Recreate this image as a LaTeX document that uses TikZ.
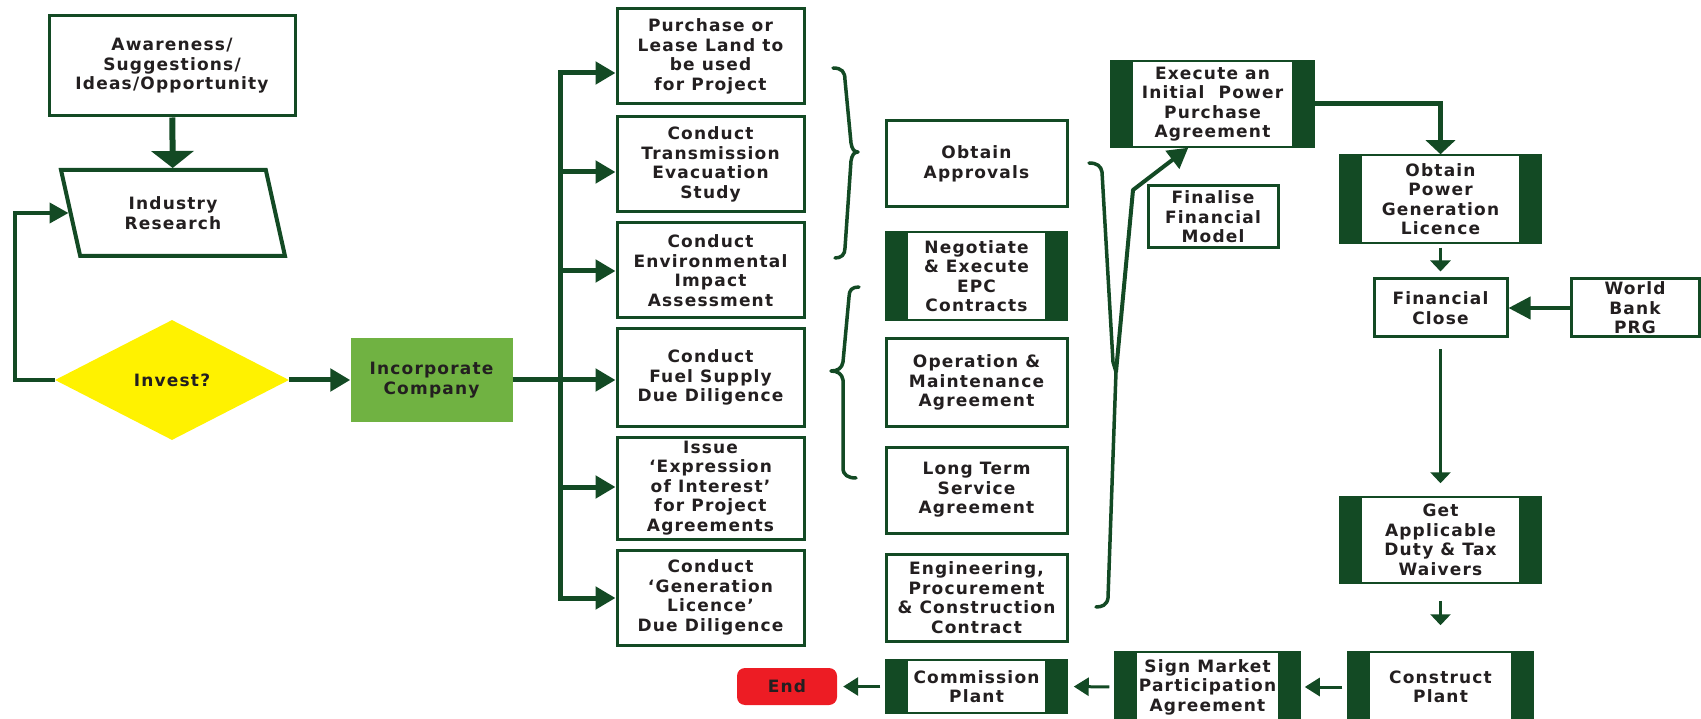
\documentclass[tikz,border=0pt]{standalone}
\usepackage{fontspec}
\setmainfont{DejaVu Sans}[LetterSpace=7]
\usetikzlibrary{shapes.geometric,arrows.meta,calc}
\definecolor{dkg}{RGB}{19,74,36}
\definecolor{incg}{RGB}{112,178,66}
\definecolor{yel}{RGB}{255,242,0}
\definecolor{endred}{RGB}{237,28,36}
\definecolor{txt}{RGB}{35,31,32}
\tikzset{
  every node/.style={font=\fontsize{17}{19.5}\selectfont\bfseries, text=txt, align=center, inner sep=0pt},
  box/.style={draw=dkg, line width=3pt, fill=white},
  barbox/.style={draw=dkg, line width=1.5pt, fill=white, path picture={
      \fill[dkg] (path picture bounding box.north west) rectangle ([xshift=22pt]path picture bounding box.south west);
      \fill[dkg] (path picture bounding box.north east) rectangle ([xshift=-22pt]path picture bounding box.south east);}},
  thk/.style={draw=dkg, line width=5pt, -{Triangle[length=20pt,width=22pt]}},
  thn/.style={draw=dkg, line width=3pt, -{Triangle[length=11pt,width=20pt]}},
  flow/.style={draw=dkg, line width=3pt, -{Triangle[length=15pt,width=18pt]}},
  bracestyle/.style={draw=dkg, line width=3.5pt, line cap=round, line join=round},
}
\begin{document}
\begin{tikzpicture}[x=1pt,y=-1pt]
\useasboundingbox (0,0) rectangle (1701,719);
% left part
\node[box, minimum width=246, minimum height=100] (aware) at (172,66) {Awareness/\\Suggestions/\\Ideas/Opportunity};
\node[trapezium, draw=dkg, line width=4pt, fill=white, trapezium left angle=107, trapezium right angle=73,
      trapezium stretches=true, minimum width=224, minimum height=86] (indus) at (173,213) {Industry\\Research};
\node[diamond, fill=yel, minimum width=234, minimum height=120] (invest) at (172,380) {Invest?};
\node[fill=incg, minimum width=162, minimum height=83] (incorp) at (431.5,380) {Incorporate\\Company};

% left column
\node[box, minimum width=187, minimum height=95] (b1) at (710.5,56.5) {Purchase or\\Lease Land to\\be used\\for Project};
\node[box, minimum width=187, minimum height=95] (b2) at (710.5,164.5) {Conduct\\Transmission\\Evacuation\\Study};
\node[box, minimum width=187, minimum height=95] (b3) at (710.5,270.5) {Conduct\\Environmental\\Impact\\Assessment};
\node[box, minimum width=187, minimum height=97] (b4) at (710.5,377.5) {Conduct\\Fuel Supply\\Due Diligence};
\node[box, minimum width=187, minimum height=102] (b5) at (710.5,488) {Issue\\‘Expression\\of Interest’\\for Project\\Agreements};
\node[box, minimum width=187, minimum height=95] (b6) at (710.5,597.5) {Conduct\\‘Generation\\Licence’\\Due Diligence};

% middle column
\node[box, minimum width=181, minimum height=86] (approv) at (976.5,164) {Obtain\\Approvals};
\node[barbox, minimum width=181, minimum height=88] (epc) at (976.5,276) {Negotiate\\\& Execute\\EPC\\Contracts};
\node[box, minimum width=181, minimum height=87] (om) at (976.5,382.5) {Operation \&\\Maintenance\\Agreement};
\node[box, minimum width=181, minimum height=86] (lts) at (976.5,490) {Long Term\\Service\\Agreement};
\node[box, minimum width=181, minimum height=87] (eng) at (976.5,597.5) {Engineering,\\Procurement\\\& Construction\\Contract};
\node[barbox, minimum width=181, minimum height=53] (comm) at (976.5,686.5) {Commission\\Plant};
\node[fill=endred, rounded corners=8pt, minimum width=100, minimum height=37] (endn) at (787,686.5) {End};

% right part
\node[barbox, minimum width=203, minimum height=86] (exec) at (1212.5,104) {Execute an\\Initial~~Power\\Purchase\\Agreement};
\node[box, minimum width=130, minimum height=62] (finmod) at (1213,217) {Finalise\\Financial\\Model};
\node[barbox, minimum width=201, minimum height=88] (pgl) at (1440.5,199) {Obtain\\Power\\Generation\\Licence};
\node[box, minimum width=133, minimum height=58] (fclose) at (1440.5,308) {Financial\\Close};
\node[box, minimum width=128, minimum height=58] (wb) at (1635,308) {World\\Bank\\PRG};
\node[barbox, minimum width=201, minimum height=86] (duty) at (1440.5,540) {Get\\Applicable\\Duty \& Tax\\Waivers};
\node[barbox, minimum width=185, minimum height=70] (constr) at (1440.5,687) {Construct\\Plant};
\node[barbox, minimum width=185, minimum height=70] (sign) at (1207.5,687) {Sign Market\\Participation\\Agreement};

% left connectors
\draw[dkg, line width=6pt, -{Triangle[length=17pt,width=42pt]}] (aware) -- (indus);
\draw[dkg, line width=4pt, -{Triangle[length=19pt,width=20pt]}] (invest.west) -- (15,380) |- (indus.west);
\draw[thk] (invest.east) -- (incorp.west);
\coordinate (j1) at (560,73);
\coordinate (j2) at (560,172);
\coordinate (j3) at (560,271);
\coordinate (j4) at (560,380);
\coordinate (j5) at (560,487);
\coordinate (j6) at (560,598);
\draw[dkg, line width=5pt] (incorp.east) -- (j4);
\draw[dkg, line width=5pt] ([yshift=2.5pt]j1) -- ([yshift=-2.5pt]j6);
\draw[thk] (j1) -- (j1 -| b1.west);
\draw[thk] (j2) -- (j2 -| b2.west);
\draw[thk] (j3) -- (j3 -| b3.west);
\draw[thk] (j4) -- (j4 -| b4.west);
\draw[thk] (j5) -- (j5 -| b5.west);
\draw[thk] (j6) -- (j6 -| b6.west);

% braces
\draw[bracestyle] (833,68) .. controls (842,68) and (845,72) .. (845,80) -- (851,143)
   .. controls (852,149) and (854,152) .. (858,152) .. controls (854,152) and (852,155) .. (851,161)
   -- (845,248) .. controls (845,255) and (841,258) .. (835,258);
\draw[bracestyle] (859,287) .. controls (852,287) and (849,290) .. (849,297) -- (843,362)
   .. controls (842,368) and (838,371) .. (831,371) .. controls (838,371) and (842,374) .. (843,380)
   -- (843,468) .. controls (843,475) and (848,478) .. (856,478);
\coordinate (bigtip) at (1116,372);
\draw[bracestyle] (1089,163) .. controls (1097,163) and (1101,166) .. (1102,172) -- (1113,362)
   .. controls (1114,367) .. (bigtip) -- (1108,598) .. controls (1107,605) and (1102,607) .. (1096,607);
\draw[dkg, line width=4pt, line join=round, -{Triangle[length=20pt,width=22pt]}] (bigtip) -- (1133,190) -- ($(exec.south west)+(78,0)$);

% right connectors
\draw[dkg, line width=5pt, -{Triangle[length=14pt,width=29pt]}] (exec.east) -| (pgl.north);
\draw[thn, shorten <=4pt, shorten >=6pt] (pgl) -- (fclose);
\draw[thn, shorten <=11pt, shorten >=13pt] (fclose) -- (duty);
\draw[thn, shorten <=17pt, shorten >=26pt] (duty) -- (constr);
\draw[dkg, line width=4pt, -{Triangle[length=22pt,width=22pt]}] (wb.west) -- (fclose.east);
\draw[flow, shorten <=5pt, shorten >=4pt] (constr.west) -- (sign.east);
\draw[flow, shorten <=5pt, shorten >=6pt] (sign.west) -- (comm.east);
\draw[flow, shorten <=5pt, shorten >=6pt] (comm.west) -- (endn.east);
\end{tikzpicture}
\end{document}
